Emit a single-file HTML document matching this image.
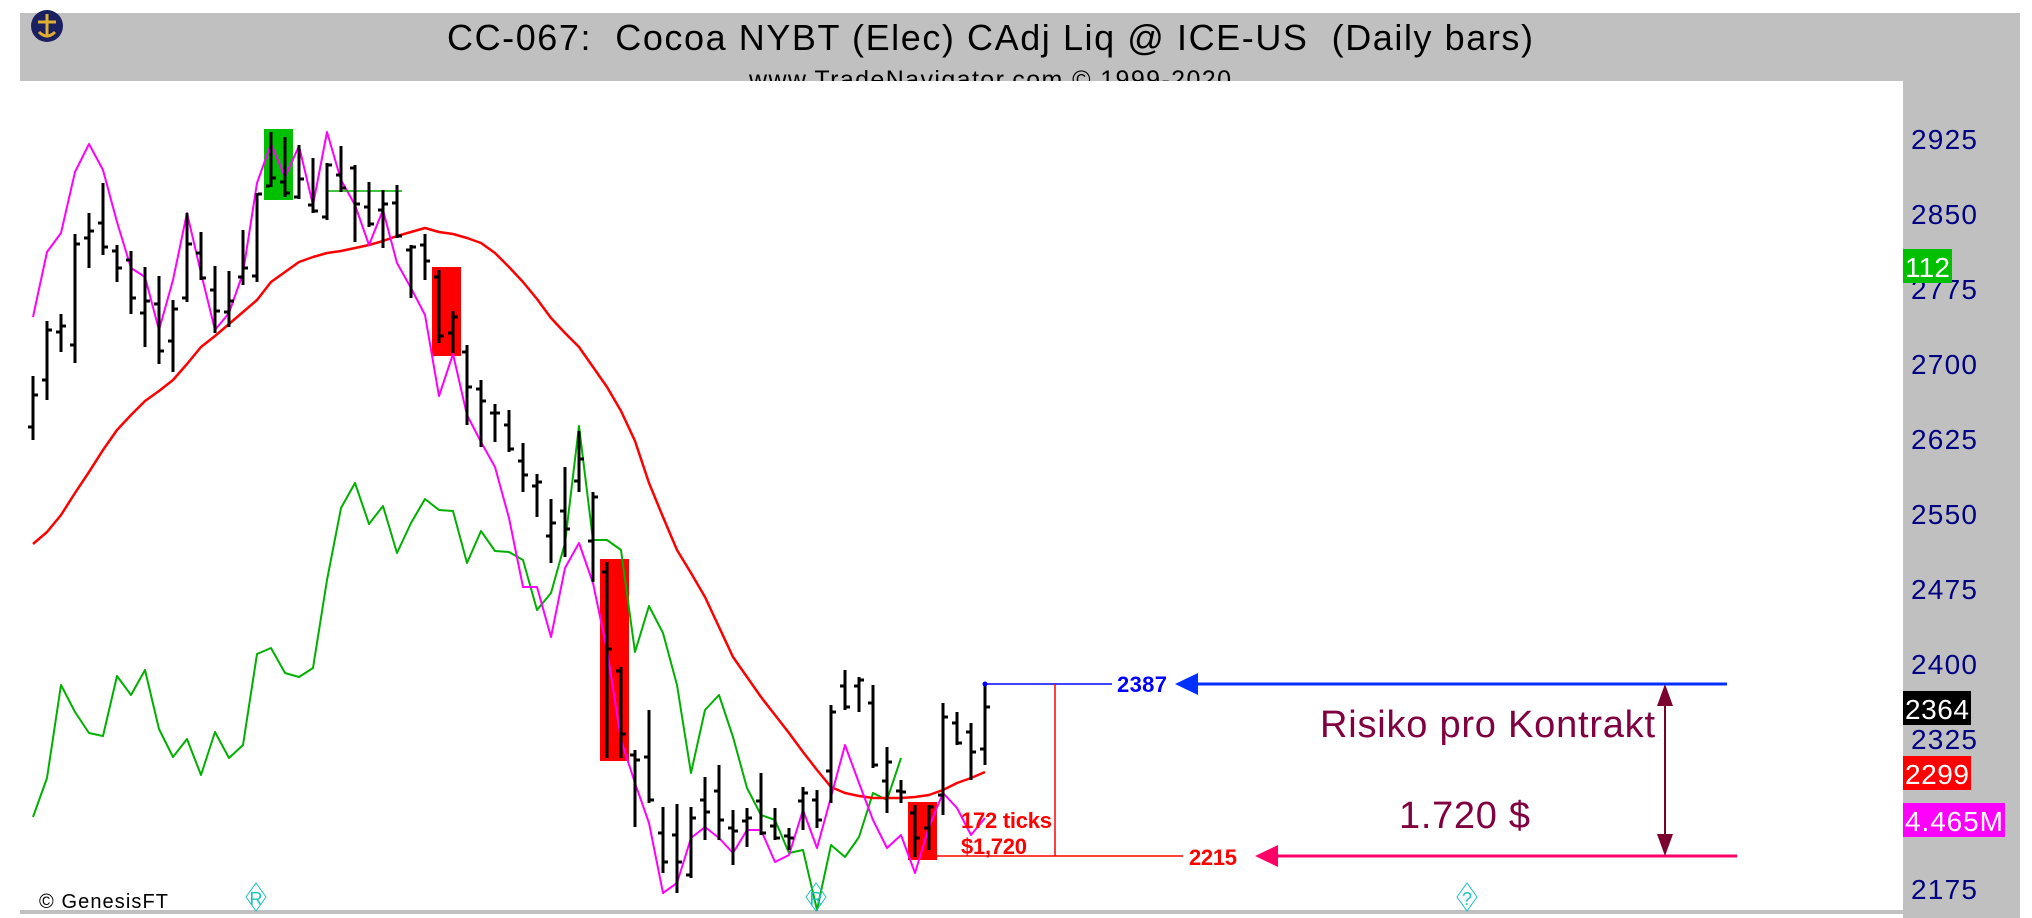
<!DOCTYPE html>
<html><head><meta charset="utf-8"><style>
html,body{margin:0;padding:0;background:#fff;}
svg{display:block;font-family:"Liberation Sans",Arial,sans-serif;}
</style></head><body>
<svg id="chart" width="2032" height="918" viewBox="0 0 2032 918" xmlns="http://www.w3.org/2000/svg">
<rect x="0" y="0" width="2032" height="918" fill="#fff"/>
<rect x="20" y="13" width="2000" height="68" fill="#c0c0c0"/>
<rect x="1903" y="13" width="117" height="905" fill="#c0c0c0"/>
<rect x="20" y="81" width="1883" height="831" fill="#fff"/>
<rect x="20" y="910" width="1883" height="4" fill="#c0c0c0"/>
<g>
<circle cx="47" cy="26" r="16" fill="#1a2060"/>
<path d="M47 14 L47 36 M38 22 L56 22 M39 32 Q47 40 55 32" stroke="#e0b030" stroke-width="3" fill="none"/>
</g>
<text x="447" y="50" font-size="36" fill="#000" textLength="1086" xml:space="preserve">CC-067:  Cocoa NYBT (Elec) CAdj Liq @ ICE-US  (Daily bars)</text>
<svg x="0" y="0" width="2032" height="81" overflow="hidden"><text x="749" y="88" font-size="25" fill="#000" textLength="482">www.TradeNavigator.com © 1999-2020</text></svg>
<g id="axis"></g>
<g id="boxes"></g>
<g id="lines"></g>
<g id="bars"></g>
<g id="annot"></g>
</svg>
<script>
const highs=[2695,2750,2757,2837,2858,2888,2826,2820,2804,2795,2771,2858,2839,2805,2800,2841,2878,2939,2934,2926,2913,2908,2925,2906,2889,2881,2886,2826,2837,2801,2760,2726,2691,2667,2661,2628,2597,2572,2604,2640,2579,2509,2404,2321,2361,2264,2267,2264,2294,2306,2261,2263,2298,2263,2243,2284,2281,2366,2401,2394,2386,2324,2291,2266,2266,2368,2359,2348,2387];
const lows=[2631,2671,2719,2708,2803,2816,2789,2757,2724,2707,2699,2769,2791,2738,2744,2786,2789,2884,2874,2872,2858,2851,2879,2829,2844,2823,2833,2773,2791,2728,2718,2646,2624,2629,2619,2579,2554,2508,2514,2579,2489,2313,2313,2244,2268,2198,2178,2193,2231,2231,2206,2224,2236,2231,2221,2241,2243,2268,2361,2359,2303,2258,2268,2214,2221,2256,2326,2291,2306];
const opens=[2644,2691,2739,2726,2833,2848,2820,2811,2758,2767,2730,2773,2818,2781,2759,2794,2795,2885,2889,2874,2866,2854,2896,2903,2864,2861,2868,2821,2826,2794,2738,2719,2682,2658,2646,2610,2585,2535,2560,2590,2530,2499,2400,2316,2314,2238,2236,2196,2271,2280,2243,2250,2270,2245,2235,2270,2271,2300,2385,2385,2368,2290,2280,2258,2243,2276,2348,2339,2322];
const closes=[2676,2741,2745,2827,2840,2824,2803,2773,2770,2720,2762,2827,2793,2760,2770,2803,2877,2893,2878,2892,2860,2906,2883,2867,2847,2867,2835,2824,2810,2735,2754,2684,2670,2658,2622,2596,2589,2548,2542,2612,2574,2422,2337,2311,2271,2209,2209,2253,2259,2251,2240,2253,2238,2233,2233,2278,2251,2359,2364,2391,2306,2309,2279,2233,2264,2354,2328,2319,2364];
const maValues=[2527,2539,2556,2578,2599,2621,2641,2656,2670,2680,2691,2707,2724,2735,2747,2759,2771,2789,2799,2809,2814,2818,2820,2823,2826,2830,2835,2839,2843,2839,2837,2833,2828,2818,2804,2789,2772,2753,2738,2724,2704,2684,2660,2630,2588,2554,2521,2498,2474,2444,2414,2394,2374,2356,2338,2319,2301,2284,2278,2275,2273,2273,2273,2274,2276,2281,2288,2293,2299];
const magentaValues=[2754,2819,2838,2899,2927,2901,2849,2803,2794,2741,2791,2858,2798,2741,2758,2798,2888,2927,2894,2925,2866,2939,2891,2866,2826,2861,2808,2783,2756,2675,2717,2656,2629,2604,2553,2484,2484,2434,2503,2528,2488,2421,2331,2288,2248,2178,2188,2233,2244,2233,2218,2241,2241,2209,2216,2261,2223,2274,2326,2288,2251,2223,2236,2198,2244,2278,2263,2236,2253];
const greenValues=[2254,2293,2386,2359,2338,2335,2395,2376,2401,2342,2314,2332,2296,2339,2313,2326,2417,2423,2398,2394,2403,2491,2563,2588,2547,2565,2518,2548,2572,2561,2560,2508,2540,2520,2519,2511,2461,2478,2528,2645,2531,2531,2521,2419,2465,2438,2386,2298,2361,2376,2334,2283,2256,2251,2218,2221,2161,2226,2214,2234,2278,2271,2313];
const tickLabels=[2925,2850,2775,2700,2625,2550,2475,2400,2325,2250,2175];
const highlightBoxes=[{from:17,color:"#00c000"},{from:29,color:"#ff0000"},{from:41,color:"#ff0000"},{from:63,color:"#ff0000"}];
const entryPrice=2387, stopPrice=2215;

const NS="http://www.w3.org/2000/svg";
function y(p){return 3071-p;}
function x(i){return 33+14*i;}
function mk(tag,attrs,parent){const e=document.createElementNS(NS,tag);for(const k in attrs)e.setAttribute(k,attrs[k]);parent.appendChild(e);return e;}
const axis=document.getElementById('axis'),boxes=document.getElementById('boxes'),lines=document.getElementById('lines'),bars=document.getElementById('bars'),annot=document.getElementById('annot');

tickLabels.forEach(v=>{
  if(v===2250)return;
  const t=mk('text',{x:1911,y:y(v)+3,'font-size':28,fill:'#000080',textLength:66},axis);
  t.textContent=v;
  
  
});
function tag(txt,y0,w,bg,name){
  const r=mk('rect',{x:1903,y:y0,width:w,height:34,fill:bg},axis);
  
  
  const t=mk('text',{x:1905,y:y0+28,'font-size':28,fill:'#fff',textLength:w-4},axis);
  t.textContent=txt;
  
  
}
tag('112',249,49,'#00c000','green-indicator-value');
tag(String(closes[closes.length-1]),691,68,'#000','last-price-tag');
tag(String(maValues[maValues.length-1]),756,68,'#ff0000','ma-value-tag');
tag('4.465M',803,102,'#ff00ff','magenta-indicator-value');

highlightBoxes.forEach(b=>{
  const i=b.from,hi=Math.max(highs[i],highs[i+1]),lo=Math.min(lows[i],lows[i+1]);
  const r=mk('rect',{x:x(i)-7,y:y(hi)-3,width:29,height:(hi-lo)+6,fill:b.color},boxes);
  
  
});

function poly(vals,color,w,name){
  const pts=vals.map((v,i)=>x(i)+','+y(v)).join(' ');
  const p=mk('polyline',{points:pts,fill:'none',stroke:color,'stroke-width':w,'stroke-linejoin':'round'},lines);
  
  
}
poly(greenValues,'#00b000',2,'green-indicator-line');
poly(maValues,'#ff0000',2.5,'moving-average-line');
poly(magentaValues,'#ff00ff',2,'magenta-indicator-line');

const gl=mk('line',{x1:x(21)+1,y1:191,x2:402,y2:191,stroke:'#00b000','stroke-width':1.5},lines);



highs.forEach((h,i)=>{
  const g=mk('g',{},bars);
  
  
  mk('rect',{x:x(i)-1.5,y:y(h),width:3,height:h-lows[i],fill:'#000'},g);
  mk('rect',{x:x(i)-5,y:y(opens[i])-1.5,width:4,height:3,fill:'#000'},g);
  mk('rect',{x:x(i)+1,y:y(closes[i])-1.5,width:4,height:3,fill:'#000'},g);
});

const xe=x(highs.length-1);
function ln(a,name,parent){const e=mk('line',a,parent||annot);return e;}
function tx(s,a,name){const e=mk('text',a,annot);e.textContent=s;return e;}
ln({x1:xe,y1:y(entryPrice),x2:1112,y2:y(entryPrice),stroke:'#0000ff','stroke-width':1.5},'entry-line-thin');
mk('circle',{cx:xe,cy:y(entryPrice),r:2.5,fill:'#0000ff'},annot);
tx(String(entryPrice),{x:1117,y:y(entryPrice)+8,'font-size':22,'font-weight':'bold',fill:'#0000ff',textLength:50},'entry-price-label');
mk('polygon',{points:`1175,${y(entryPrice)} 1198,${y(entryPrice)-11} 1198,${y(entryPrice)+11}`,fill:'#0030ff'},annot);
ln({x1:1196,y1:y(entryPrice),x2:1727,y2:y(entryPrice),stroke:'#0030ff','stroke-width':3},'entry-line');
ln({x1:936,y1:y(stopPrice),x2:1183,y2:y(stopPrice),stroke:'#ff0000','stroke-width':1.5},'stop-line-thin');
ln({x1:1055,y1:y(entryPrice),x2:1055,y2:y(stopPrice),stroke:'#ff0000','stroke-width':1.5},'risk-vertical-line');
tx(String(stopPrice),{x:1189,y:y(stopPrice)+9,'font-size':22,'font-weight':'bold',fill:'#ff0000',textLength:48},'stop-price-label');
mk('polygon',{points:`1255,${y(stopPrice)} 1278,${y(stopPrice)-11} 1278,${y(stopPrice)+11}`,fill:'#ff0066'},annot);
ln({x1:1276,y1:y(stopPrice),x2:1737,y2:y(stopPrice),stroke:'#ff0066','stroke-width':3},'stop-line');
ln({x1:1665,y1:y(entryPrice)+12,x2:1665,y2:y(stopPrice)-12,stroke:'#7a0030','stroke-width':2},'risk-double-arrow');
mk('polygon',{points:`1665,${y(entryPrice)} 1657,${y(entryPrice)+22} 1673,${y(entryPrice)+22}`,fill:'#7a0030'},annot);
mk('polygon',{points:`1665,${y(stopPrice)} 1657,${y(stopPrice)-22} 1673,${y(stopPrice)-22}`,fill:'#7a0030'},annot);
tx('Risiko pro Kontrakt',{x:1320,y:737,'font-size':38,fill:'#800040',textLength:335},'risk-title');
tx('1.720 $',{x:1399,y:828,'font-size':38,fill:'#800040',textLength:131},'risk-amount');
tx('172 ticks',{x:961,y:828,'font-size':22,'font-weight':'bold',fill:'#ff0000',textLength:91},'ticks-label');
tx('$1,720',{x:961,y:854,'font-size':22,'font-weight':'bold',fill:'#ff0000',textLength:66},'dollar-risk-label');
tx('© GenesisFT',{x:39,y:908,'font-size':20,fill:'#000',textLength:129},'copyright-label');
[[256,'R','event-marker'],[816,'R','event-marker'],[1467,'?','unknown-marker']].forEach(m=>{
  const g=mk('g',{},annot);
  
  
  mk('polygon',{points:`${m[0]},883 ${m[0]+10},897 ${m[0]},911 ${m[0]-10},897`,fill:'none',stroke:'#20c0c0','stroke-width':1},g);
  const t=mk('text',{x:m[0],y:905,'font-size':18,fill:'#20c0c0','text-anchor':'middle'},g);
  t.textContent=m[1];
});
</script>
</body></html>
